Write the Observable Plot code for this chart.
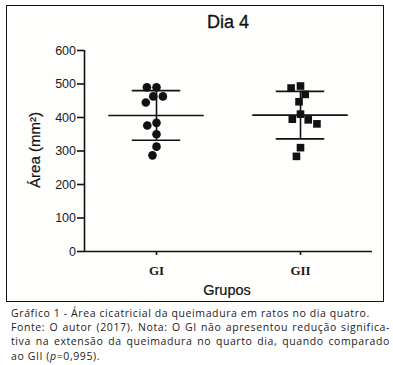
<!DOCTYPE html>
<html><head><meta charset="utf-8">
<script src="https://cdn.jsdelivr.net/npm/d3@7"></script>
<script src="https://cdn.jsdelivr.net/npm/@observablehq/plot@0.6"></script>
<style>
body{margin:0;background:#fff;width:393px;height:365px;position:relative;overflow:hidden;font-family:"Liberation Sans",Arial,sans-serif;color:#111}
#box{position:absolute;left:6px;top:5px;width:378px;height:297px;border:1.5px solid #111;box-sizing:border-box;background:#fefefd}
#title{position:absolute;left:128px;width:200px;top:12px;text-align:center;font-size:18px;line-height:20px;-webkit-text-stroke:0.3px #111}
#ylabel{position:absolute;left:-25px;top:141px;width:120px;height:18px;line-height:18px;text-align:center;font-size:15px;transform:rotate(-90deg);-webkit-text-stroke:0.2px #111}
#xlabel{position:absolute;left:147px;width:160px;top:282px;text-align:center;font-size:14.5px;line-height:16px;-webkit-text-stroke:0.2px #111}
#chart{position:absolute;left:7.5px;top:30px}
#caption{position:absolute;left:11px;top:305.5px;width:379px;font-family:"Open Sans",sans-serif;font-size:10.5px;letter-spacing:0.6px;line-height:14.4px;color:#222}
#caption div{white-space:nowrap;height:14.4px}
#caption .j{text-align:justify;text-align-last:justify}
</style></head>
<body>
<div id="box"></div>
<div id="title">Dia 4</div>
<div id="ylabel">Área (mm²)</div>
<div id="xlabel">Grupos</div>
<div id="chart"></div>
<div id="caption">
<div>Gráfico 1 - Área cicatricial da queimadura em ratos no dia quatro.</div>
<div class="j">Fonte: O autor (2017). Nota: O GI não apresentou redução significa-</div>
<div class="j">tiva na extensão da queimadura no quarto dia, quando comparado</div>
<div>ao GII (<i>p</i>=0,995).</div>
</div>
<script>
const groups = ["GI", "GII"];
const giArea = [490, 490, 463, 463, 445, 384, 376, 350, 313, 287];
const giiArea = [494, 488, 469, 447, 410, 395, 393, 381, 310, 284];
const yTicks = [0, 100, 200, 300, 400, 500, 600];

const points = [
  ...giArea.map(v => ({group: "GI", area: v})),
  ...giiArea.map(v => ({group: "GII", area: v}))
];
const stats = groups.map(g => {
  const v = points.filter(d => d.group === g).map(d => d.area);
  const m = d3.mean(v), s = d3.deviation(v);
  return {group: g, mean: m, lo: m - s, hi: m + s};
});

const chart = Plot.plot({
  width: 375, height: 272,
  marginLeft: 75.5, marginRight: 10.5, marginTop: 20, marginBottom: 51,
  style: {fontFamily: "Liberation Sans, Arial, sans-serif", fontSize: "12.5px", color: "#1a1a1a", background: "transparent", overflow: "visible"},
  fx: {domain: groups, padding: 0, label: null},
  x: {domain: [-1, 1], axis: null},
  y: {domain: [0, 600], label: null},
  symbol: {domain: groups, range: ["circle", "square"]},
  marks: [
    Plot.ruleY([0], {stroke: "#111", strokeWidth: 1.6}),
    Plot.ruleX([groups[0]], {fx: d => d, x: -1, y1: 0, y2: 600, stroke: "#111", strokeWidth: 1.6}),
    Plot.axisY({ticks: yTicks, tickSize: 7, tickPadding: 1.5, stroke: "#111", strokeWidth: 1.6, label: null}),
    Plot.axisFx({anchor: "bottom", tickSize: 4, tickPadding: 10, stroke: "#111", strokeWidth: 1.6, fontFamily: "Liberation Serif, serif", fontWeight: "bold", fontSize: 13, label: null}),
    Plot.ruleY(stats, {fx: "group", y: "mean", insetLeft: 24.25, insetRight: 24.25, stroke: "#111", strokeWidth: 1.6}),
    Plot.ruleY(stats, {fx: "group", y: "lo", insetLeft: 47.75, insetRight: 47.75, stroke: "#111", strokeWidth: 1.6}),
    Plot.ruleY(stats, {fx: "group", y: "hi", insetLeft: 47.75, insetRight: 47.75, stroke: "#111", strokeWidth: 1.6}),
    Plot.ruleX(stats, {fx: "group", x: 0, y1: "lo", y2: "hi", stroke: "#111", strokeWidth: 1.6}),
    Plot.dot(points, Plot.dodgeX("middle", {fx: "group", y: "area", r: 4.3, padding: 2.4, symbol: "group", fill: "#111", stroke: "none"}))
  ]
});
document.getElementById("chart").appendChild(chart);
</script>
</body></html>
